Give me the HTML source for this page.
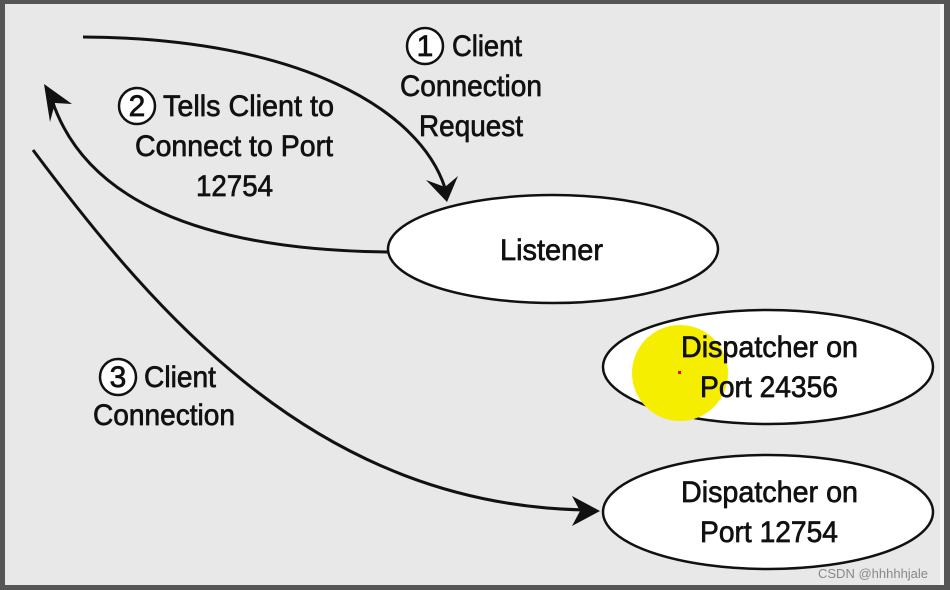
<!DOCTYPE html>
<html><head><meta charset="utf-8"><style>
html,body{margin:0;padding:0;background:#e8e8e8}
svg{display:block}
text{font-family:"Liberation Sans",sans-serif;font-size:30px;fill:#111;stroke:#111;stroke-width:0.7}
</style></head><body>
<svg width="950" height="590" viewBox="0 0 950 590" xmlns="http://www.w3.org/2000/svg">
<rect x="0" y="0" width="950" height="590" fill="#555"/>
<rect x="5" y="4" width="939" height="581" fill="#e8e8e8"/>
<rect x="940" y="4" width="4" height="581" fill="#f4f4f4"/>
<g fill="none" stroke="#111" stroke-width="3">
<path d="M83,37 C300,38 420,110 445,188"/>
<path d="M388,252 C200,250 85,200 52,100"/>
<path d="M33,150 C160,320 320,505 585,510"/>
</g>
<path d="M447,202 L426,180 L445,187 L458,176 Z" fill="#111"/>
<path d="M44,84 L72,104 L55,103 L50,122 Z" fill="#111"/>
<path d="M600,511 L572,526 L580,511 L572,496 Z" fill="#111"/>
<g fill="#fff" stroke="#111" stroke-width="2.5">
<ellipse cx="553" cy="249" rx="165" ry="54"/>
<ellipse cx="768" cy="367" rx="165" ry="57"/>
<ellipse cx="768" cy="512" rx="165" ry="57"/>
</g>
<circle cx="680" cy="373" r="48" fill="#f5ee00"/>
<rect x="678" y="371" width="3" height="3" fill="#e00"/>
<g fill="#fff" stroke="#111" stroke-width="2.5">
<circle cx="425" cy="46" r="18"/><circle cx="137" cy="106" r="18"/><circle cx="118" cy="377" r="18"/>
</g>
<g text-anchor="middle">
<text x="425" y="56">1</text><text x="137" y="116">2</text><text x="118" y="387">3</text>
</g>
<g lengthAdjust="spacingAndGlyphs">
<text x="452" y="56" textLength="70" lengthAdjust="spacingAndGlyphs">Client</text>
<text x="400" y="96" textLength="142" lengthAdjust="spacingAndGlyphs">Connection</text>
<text x="419" y="136" textLength="104" lengthAdjust="spacingAndGlyphs">Request</text>
<text x="163" y="116" textLength="171" lengthAdjust="spacingAndGlyphs">Tells Client to</text>
<text x="135" y="156" textLength="198" lengthAdjust="spacingAndGlyphs">Connect to Port</text>
<text x="196" y="196" textLength="77" lengthAdjust="spacingAndGlyphs">12754</text>
<text x="144" y="387" textLength="72" lengthAdjust="spacingAndGlyphs">Client</text>
<text x="93" y="425" textLength="142" lengthAdjust="spacingAndGlyphs">Connection</text>
<text x="500" y="260" textLength="103" lengthAdjust="spacingAndGlyphs">Listener</text>
<text x="681" y="357" textLength="177" lengthAdjust="spacingAndGlyphs">Dispatcher on</text>
<text x="700" y="397" textLength="138" lengthAdjust="spacingAndGlyphs">Port 24356</text>
<text x="681" y="502" textLength="177" lengthAdjust="spacingAndGlyphs">Dispatcher on</text>
<text x="700" y="542" textLength="138" lengthAdjust="spacingAndGlyphs">Port 12754</text>
</g>
<text x="818" y="578" style="font-size:13px;fill:#888;stroke:none">CSDN @hhhhhjale</text>
</svg>
</body></html>
